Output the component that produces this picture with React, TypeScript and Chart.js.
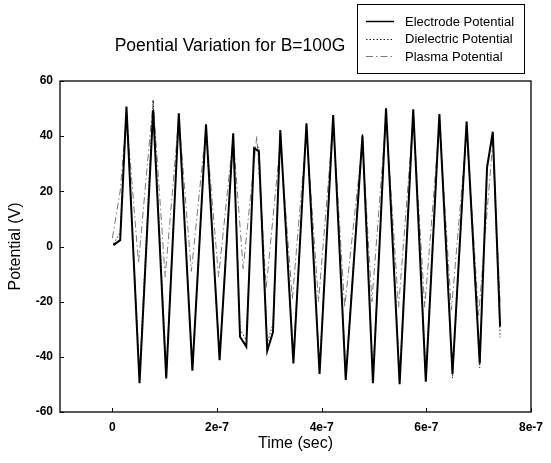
import React, { useEffect, useRef } from "react";
import { Chart, registerables } from "chart.js";

Chart.register(...registerables);

// ---- data (time in seconds, potential in volts) ----
const electrodeT = [2e-9, 15e-9, 27e-9, 52e-9, 78e-9, 103e-9, 127e-9, 153e-9, 179e-9, 205e-9, 231e-9, 244e-9, 256e-9, 271e-9, 280e-9, 296e-9, 307e-9, 321e-9, 346e-9, 371e-9, 396e-9, 422e-9, 446e-9, 478e-9, 498e-9, 523e-9, 549e-9, 575e-9, 599e-9, 625e-9, 650e-9, 677e-9, 702e-9, 716e-9, 727e-9, 741e-9];
const electrodeV = [0.5, 2.3, 50.7, -49.6, 49.5, -47.8, 48.3, -45, 44.3, -41.2, 41, -32.7, -36.3, 35.6, 34.5, -37.8, -31, 42.2, -42.4, 44.7, -46.2, 47.7, -48.4, 40.2, -49.6, 50.1, -49.9, 49.7, -49, 48, -46.2, 45.3, -42.4, 28.5, 41.6, -29];

const dielectricT = [2e-9, 15e-9, 27e-9, 52e-9, 78e-9, 103e-9, 127e-9, 153e-9, 179e-9, 205e-9, 231e-9, 244e-9, 256e-9, 271e-9, 280e-9, 296e-9, 307e-9, 321e-9, 346e-9, 371e-9, 396e-9, 422e-9, 446e-9, 478e-9, 498e-9, 523e-9, 549e-9, 575e-9, 599e-9, 625e-9, 650e-9, 677e-9, 702e-9, 716e-9, 727e-9, 741e-9];
const dielectricV = [1, 5, 49, -46, 53, -45, 47, -43, 43, -40, 40, -30, -34, 36, 36, -35, -28, 41, -40, 44, -44, 46, -46, 41, -47, 49, -47, 49, -46, 47, -47.7, 44, -44, 30, 40, -33];

const plasmaT = [0, 15e-9, 27e-9, 50e-9, 78e-9, 101e-9, 127e-9, 151e-9, 179e-9, 203e-9, 231e-9, 250e-9, 276e-9, 294e-9, 321e-9, 344e-9, 371e-9, 394e-9, 422e-9, 444e-9, 478e-9, 496e-9, 523e-9, 547e-9, 575e-9, 597e-9, 625e-9, 648e-9, 677e-9, 700e-9, 727e-9, 741e-9];
const plasmaV = [3, 20, 48, -6, 53, -11, 47, -9, 43, -11, 40, -8, 40, -15, 38, -19, 42, -20, 45, -22, 38, -20, 47, -22, 47, -22, 45, -23, 42, -25, 38, -20];

const seriesNames = ["Electrode Potential", "Dielectric Potential", "Plasma Potential"];
const titleText = "Poential Variation for B=100G";
const xTitle = "Time (sec)";
const yTitle = "Potential (V)";
const xTickValues = [0, 2e-7, 4e-7, 6e-7, 8e-7];
const xTickLabels = ["0", "2e-7", "4e-7", "6e-7", "8e-7"];
const yTickValues = [-60, -40, -20, 0, 20, 40, 60];
const yTickLabels = ["-60", "-40", "-20", "0", "20", "40", "60"];

const FAMILY = '"Liberation Sans", Arial, Helvetica, sans-serif';

const seriesStyles = [
  { color: "#000000", width: 2, dash: [] as number[] },
  { color: "#222222", width: 1, dash: [1.5, 2] },
  { color: "#777777", width: 1, dash: [7, 3, 1.5, 3] },
];

const overlayPlugin = {
  id: "overlay",
  afterDatasetsDraw(chart: any) {
    const { ctx, chartArea: a, scales } = chart;
    ctx.save();
    // frame
    ctx.strokeStyle = "#000";
    ctx.lineWidth = 1.3;
    ctx.setLineDash([]);
    ctx.strokeRect(a.left, a.top, a.right - a.left, a.bottom - a.top);
    // inward ticks
    ctx.lineWidth = 1;
    xTickValues.forEach((v) => {
      const x = Math.round(scales.x.getPixelForValue(v)) + 0.5;
      ctx.beginPath();
      ctx.moveTo(x, a.bottom);
      ctx.lineTo(x, a.bottom - 4);
      ctx.stroke();
    });
    yTickValues.forEach((v) => {
      const y = Math.round(scales.y.getPixelForValue(v)) + 0.5;
      ctx.beginPath();
      ctx.moveTo(a.left, y);
      ctx.lineTo(a.left + 4, y);
      ctx.stroke();
    });
    // title
    ctx.fillStyle = "#000";
    ctx.font = "17.5px " + FAMILY;
    ctx.textAlign = "center";
    ctx.textBaseline = "middle";
    ctx.fillText(titleText, 230, 46);
    // legend
    const bx = 357.5, by = 4.5, bw = 167, bh = 69;
    ctx.fillStyle = "#fff";
    ctx.fillRect(bx, by, bw, bh);
    ctx.strokeStyle = "#000";
    ctx.lineWidth = 1;
    ctx.strokeRect(bx, by, bw, bh);
    const rows = [21, 38.5, 56];
    ctx.font = "13px " + FAMILY;
    ctx.textAlign = "left";
    chart.data.datasets.forEach((ds: any, i: number) => {
      const st = seriesStyles[i];
      const y = Math.round(rows[i]) + 0.5;
      ctx.strokeStyle = st.color;
      ctx.lineWidth = st.width === 2 ? 1.5 : 1;
      ctx.setLineDash(st.dash);
      ctx.beginPath();
      ctx.moveTo(366, y);
      ctx.lineTo(394, y);
      ctx.stroke();
      ctx.setLineDash([]);
      ctx.fillStyle = "#000";
      ctx.fillText(ds.label, 405, rows[i] + 1);
    });
    ctx.restore();
  },
};

function pts(t: number[], v: number[]) {
  return t.map((x, i) => ({ x, y: v[i] }));
}

export default function App() {
  const ref = useRef<HTMLCanvasElement | null>(null);
  useEffect(() => {
    if (!ref.current) return;
    const data = [
      pts(electrodeT, electrodeV),
      pts(dielectricT, dielectricV),
      pts(plasmaT, plasmaV),
    ];
    const chart = new Chart(ref.current, {
      type: "line",
      data: {
        datasets: data.map((d, i) => ({
          label: seriesNames[i],
          data: d,
          borderColor: seriesStyles[i].color,
          borderWidth: seriesStyles[i].width,
          borderDash: seriesStyles[i].dash,
          pointRadius: 0,
          tension: 0,
          fill: false,
        })),
      },
      options: {
        animation: false,
        responsive: false,
        maintainAspectRatio: false,
        devicePixelRatio: 1,
        layout: { padding: { top: 81, right: 13, bottom: 0, left: 0 } },
        plugins: {
          legend: { display: false },
          title: { display: false },
          tooltip: { enabled: false },
        },
        scales: {
          x: {
            type: "linear",
            min: -1e-7,
            max: 8e-7,
            grid: { display: false, drawTicks: false },
            border: { display: false },
            afterBuildTicks: (s: any) => {
              s.ticks = xTickValues.map((v) => ({ value: v }));
            },
            afterFit: (s: any) => {
              s.height = 51;
            },
            ticks: {
              padding: 8,
              color: "#000",
              autoSkip: false,
              maxRotation: 0,
              font: { size: 12, weight: "bold", family: FAMILY },
              callback: (v: any) => {
                const i = xTickValues.findIndex((t) => Math.abs(t - v) < 1e-12);
                return i >= 0 ? xTickLabels[i] : "";
              },
            },
            title: {
              display: true,
              text: xTitle,
              color: "#000",
              font: { size: 16, family: FAMILY },
              padding: { top: 0, bottom: 9.5 },
            },
          },
          y: {
            type: "linear",
            min: -60,
            max: 60,
            grid: { display: false, drawTicks: false },
            border: { display: false },
            afterBuildTicks: (s: any) => {
              s.ticks = yTickValues.map((v) => ({ value: v }));
            },
            afterFit: (s: any) => {
              s.width = 60;
            },
            ticks: {
              padding: 7,
              color: "#000",
              autoSkip: false,
              font: { size: 12, weight: "bold", family: FAMILY },
              callback: (v: any) => {
                const i = yTickValues.indexOf(Number(v));
                return i >= 0 ? yTickLabels[i] : "";
              },
            },
            title: {
              display: true,
              text: yTitle,
              color: "#000",
              font: { size: 16, family: FAMILY },
              padding: { top: 5.5, bottom: 0 },
            },
          },
        },
      },
      plugins: [overlayPlugin],
    } as any);
    return () => chart.destroy();
  }, []);
  return (
    <div style={{ position: "absolute", left: 0, top: 0, width: 551, height: 463, background: "#fff" }}>
      <canvas ref={ref} width={551} height={463} style={{ width: 551, height: 463, display: "block" }} />
    </div>
  );
}
